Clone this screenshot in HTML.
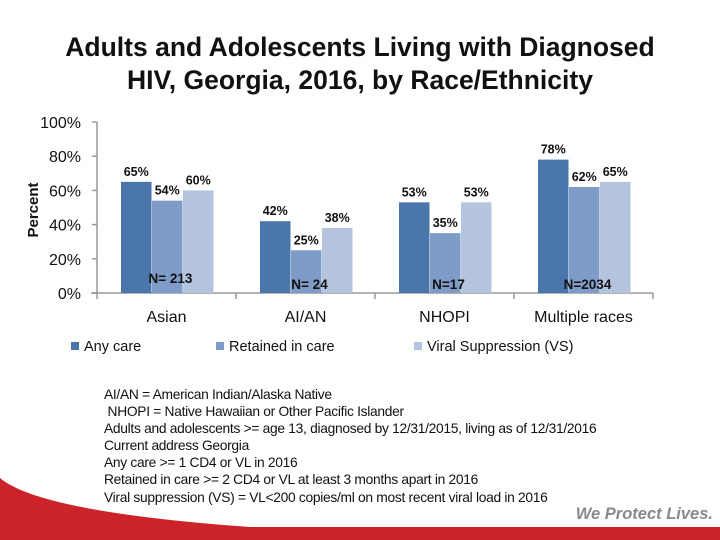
<!DOCTYPE html>
<html><head><meta charset="utf-8">
<style>
body{margin:0;background:#fff;}
#wrap{position:relative;width:720px;height:540px;overflow:hidden;font-family:"Liberation Sans","DejaVu Sans",sans-serif;background:#fff;}
.title{position:absolute;left:0;top:31px;width:720px;text-align:center;font-weight:bold;font-size:26.5px;line-height:33px;color:#111;}
.notes{position:absolute;left:104px;top:386px;font-size:13.8px;line-height:17.1px;color:#111;white-space:pre;letter-spacing:-0.3px;}
.brand{position:absolute;right:7px;top:505px;font-size:16.5px;font-style:italic;font-weight:bold;color:#8a8a8a;}
</style></head>
<body>
<div id="wrap">
<div class="title">Adults and Adolescents Living with Diagnosed<br>HIV, Georgia, 2016, by Race/Ethnicity</div>
<svg id="chart" width="720" height="540" style="position:absolute;left:0;top:0"></svg>
<div class="notes">AI/AN = American Indian/Alaska Native
 NHOPI = Native Hawaiian or Other Pacific Islander
Adults and adolescents &gt;= age 13, diagnosed by 12/31/2015, living as of 12/31/2016
Current address Georgia
Any care &gt;= 1 CD4 or VL in 2016
Retained in care &gt;= 2 CD4 or VL at least 3 months apart in 2016
Viral suppression (VS) = VL&lt;200 copies/ml on most recent viral load in 2016</div>
<div class="brand">We Protect Lives.</div>
</div>
<script>
const categories=["Asian","AI/AN","NHOPI","Multiple races"];
const nLabels=["N= 213","N= 24","N=17","N=2034"];
const anyCare=[65,42,53,78];
const retained=[54,25,35,62];
const viral=[60,38,53,65];
const seriesNames=["Any care","Retained in care","Viral Suppression (VS)"];
const yTicks=[0,20,40,60,80,100];

const NS="http://www.w3.org/2000/svg";
const svg=document.getElementById('chart');
const colors=["#4A76AC","#7F9BC8","#B4C4DE"];
const x0=97,x1=653,yBase=293,yTop=122;
const catW=(x1-x0)/categories.length;
function y(v){return yBase-(v/100)*(yBase-yTop);}
function mk(tag,attrs){const e=document.createElementNS(NS,tag);for(const k in attrs)e.setAttribute(k,attrs[k]);svg.appendChild(e);return e;}

let sw=mk('path',{d:"M0,478 Q40,512 250,527 L720,527 L720,540 L0,540 Z",fill:"#CC2229"});



let ya=mk('line',{x1:x0,y1:yTop,x2:x0,y2:yBase,stroke:"#999","stroke-width":1.5});


let xa=mk('line',{x1:x0-6,y1:yBase,x2:x1,y2:yBase,stroke:"#999","stroke-width":1.5});


yTicks.forEach(t=>{
  let tk=mk('line',{x1:x0-5,y1:y(t),x2:x0,y2:y(t),stroke:"#999","stroke-width":1.5});
  
  
  let tl=mk('text',{x:x0-16,y:y(t)+6,"text-anchor":"end","font-size":16,fill:"#111"});
  tl.textContent=t+"%";
  
  
});
for(let i=0;i<=categories.length;i++){
  let tk=mk('line',{x1:x0+i*catW,y1:yBase,x2:x0+i*catW,y2:yBase+6,stroke:"#999","stroke-width":1.5});
  
  
}
let yt=mk('text',{x:0,y:0,transform:"translate(38,210) rotate(-90)","text-anchor":"middle","font-size":15,"font-weight":"bold",fill:"#111"});
yt.textContent="Percent";



const series=[anyCare,retained,viral];
const bw=30.5;
categories.forEach((c,i)=>{
  const gx=x0+i*catW+24;
  series.forEach((s,j)=>{
    const bx=gx+j*(bw+0.5);
    let r=mk('rect',{x:bx,y:y(s[i]),width:bw,height:yBase-y(s[i]),fill:colors[j]});
    
    
    let vl=mk('text',{x:bx+bw/2,y:y(s[i])-6,"text-anchor":"middle","font-size":12.5,"font-weight":"bold",fill:"#111"});
    vl.textContent=s[i]+"%";
    
    
  });
  let nl=mk('text',{x:x0+i*catW+catW/2+4,y:i===0?yBase-10:yBase-4,"text-anchor":"middle","font-size":13.5,"font-weight":"bold",fill:"#111"});
  nl.textContent=nLabels[i];
  
  
  let cl=mk('text',{x:x0+i*catW+catW/2,y:322,"text-anchor":"middle","font-size":16,fill:"#111"});
  cl.textContent=c;
  
  
});

const lx=[71,216,414];
seriesNames.forEach((n,j)=>{
  let sq=mk('rect',{x:lx[j],y:342,width:8,height:8,fill:colors[j]});
  
  
  let lt=mk('text',{x:lx[j]+13,y:351,"font-size":14.5,fill:"#111"});
  lt.textContent=n;
  
  
});
</script>
</body></html>
